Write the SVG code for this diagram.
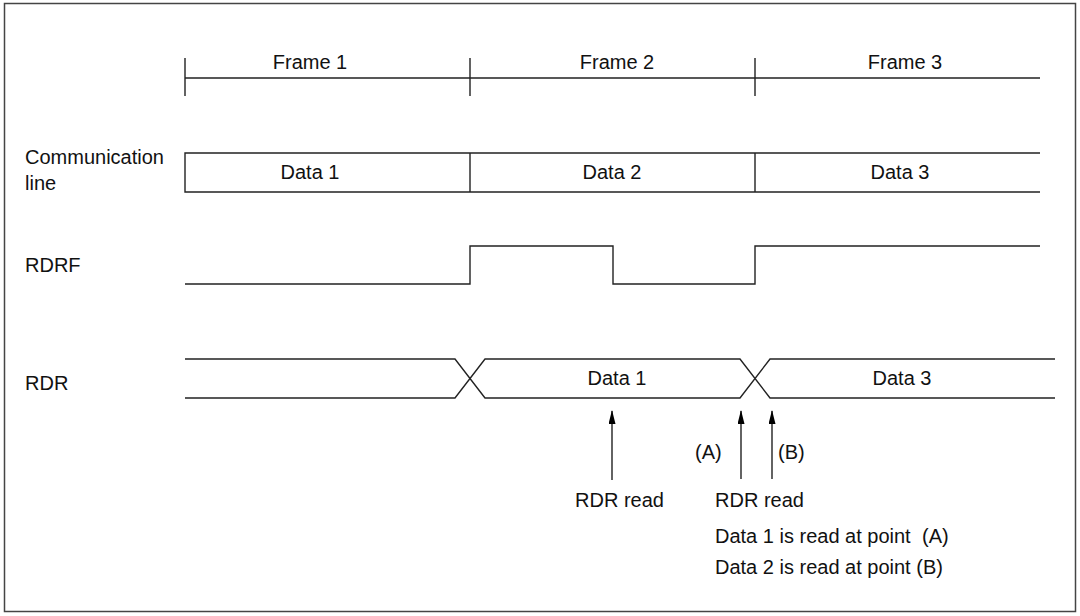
<svg xmlns="http://www.w3.org/2000/svg" width="1080" height="616" viewBox="0 0 1080 616">
<defs>
<marker id="ah" viewBox="0 0 14 7" refX="13" refY="3.5" markerWidth="14" markerHeight="7" markerUnits="userSpaceOnUse" orient="auto">
<path d="M0 0 L14 3.5 L0 7 Z" fill="#000"/>
</marker>
<style>
text{font-family:"Liberation Sans",Arial,sans-serif;font-size:20px;fill:#111}
.m{text-anchor:middle}
.ln{fill:none;stroke:#222;stroke-width:1.4}
</style>
</defs>
<rect x="4.5" y="3.5" width="1071" height="608" fill="#fff" stroke="#444" stroke-width="1.5"/>
<g id="labels">
<text x="25" y="164">Communication</text>
<text x="25" y="190">line</text>
<text x="25" y="272">RDRF</text>
<text x="25" y="390">RDR</text>
</g>
<g id="frames">
<path class="ln" d="M185 78 H1040 M185 58 V96 M470 58 V96 M755 58 V96"/>
<text class="m" x="310" y="69">Frame 1</text>
<text class="m" x="617" y="69">Frame 2</text>
<text class="m" x="905" y="69">Frame 3</text>
</g>
<g id="commline">
<path class="ln" d="M1040 153 H185 V192 H1040 M470 153 V192 M755 153 V192"/>
<text class="m" x="310" y="179">Data 1</text>
<text class="m" x="612" y="179">Data 2</text>
<text class="m" x="900" y="179">Data 3</text>
</g>
<g id="rdrf">
<path class="ln" d="M185 284 H470 V246 H613 V284 H755 V246 H1040"/>
</g>
<g id="rdr">
<path class="ln" d="M185 359 H455 L485 398 H740 L770 359 H1055 M185 398 H455 L485 359 H740 L770 398 H1055"/>
<text class="m" x="617" y="385">Data 1</text>
<text class="m" x="902" y="385">Data 3</text>
</g>
<g id="connectors">
<line class="ln" x1="612" y1="480" x2="612" y2="411" marker-end="url(#ah)"/>
<line class="ln" x1="741" y1="479" x2="741" y2="411" marker-end="url(#ah)"/>
<line class="ln" x1="772" y1="479" x2="772" y2="411" marker-end="url(#ah)"/>
</g>
<g id="notes">
<text x="575" y="507">RDR read</text>
<text x="695" y="459">(A)</text>
<text x="778" y="459">(B)</text>
<text x="715" y="507">RDR read</text>
<text x="715" y="543">Data 1 is read at point <tspan x="922">(A)</tspan></text>
<text x="715" y="574">Data 2 is read at point (B)</text>
</g>
</svg>
